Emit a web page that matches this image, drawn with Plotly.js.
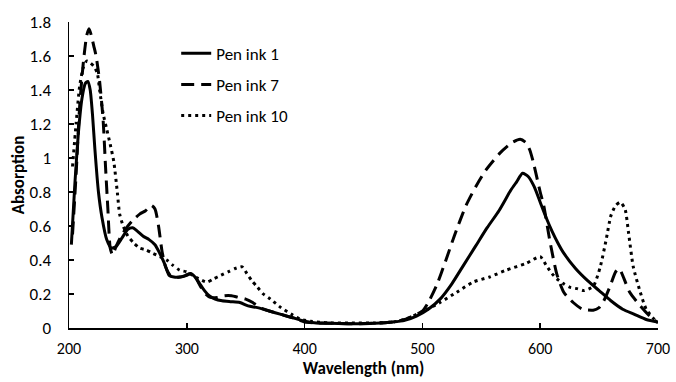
<!DOCTYPE html>
<html>
<head>
<meta charset="utf-8">
<script src="https://cdn.plot.ly/plotly-3.0.1.min.js"></script>
<style>html,body{margin:0;padding:0;background:#fff;}#chart{width:676px;height:382px;}</style>
</head>
<body>
<div id="chart"></div>
<script>
// Pen ink 1 (solid)
const wl1 = [202,205,208,211,214,216,218,220,222,225,228,232,236,240,245,250,254,258,263,268,273,277,281,285,289,294,299,303,307,311,315,319,324,330,337,345,352,360,370,380,390,400,410,420,440,460,475,485,495,505,515,525,535,545,555,565,575,580,585,590,595,600,605,610,615,620,630,640,650,660,670,680,690,700];
const ink1 = [0.49,0.85,1.15,1.35,1.44,1.45,1.40,1.25,1.05,0.80,0.65,0.52,0.47,0.48,0.53,0.58,0.59,0.57,0.54,0.52,0.49,0.44,0.38,0.31,0.30,0.30,0.31,0.32,0.30,0.26,0.22,0.19,0.17,0.16,0.155,0.15,0.13,0.12,0.10,0.08,0.06,0.04,0.03,0.028,0.025,0.028,0.035,0.045,0.07,0.11,0.17,0.26,0.37,0.48,0.59,0.69,0.81,0.86,0.91,0.89,0.83,0.74,0.65,0.57,0.50,0.44,0.35,0.28,0.22,0.16,0.11,0.08,0.05,0.035];

// Pen ink 7 (dashed)
const wl7 = [203,206,209,212,215,217,219,221,223,226,229,231,233,235,237,240,245,250,255,260,265,270,273,276,279,282,286,290,295,300,304,308,312,316,320,326,332,338,344,350,356,362,370,380,390,400,410,420,440,460,475,485,495,500,505,512,520,527,537,546,554,566,576,583,588,591,594,597,600,603,608,614,620,628,636,645,650,654,659,664,667,670,676,685,693,699];
const ink7 = [0.55,0.90,1.30,1.55,1.72,1.76,1.72,1.66,1.60,1.45,1.22,0.95,0.70,0.47,0.43,0.48,0.55,0.60,0.64,0.67,0.69,0.72,0.70,0.60,0.45,0.36,0.31,0.30,0.30,0.31,0.32,0.29,0.24,0.20,0.18,0.18,0.19,0.19,0.18,0.17,0.15,0.12,0.10,0.08,0.06,0.035,0.03,0.028,0.025,0.028,0.035,0.05,0.08,0.10,0.15,0.25,0.40,0.54,0.72,0.84,0.93,1.03,1.09,1.11,1.09,1.05,0.98,0.89,0.80,0.72,0.52,0.32,0.21,0.15,0.11,0.105,0.12,0.16,0.24,0.33,0.35,0.31,0.21,0.13,0.07,0.035];

// Pen ink 10 (dotted)
const wl10 = [203,206,209,212,215,218,221,224,226,229,232,235,238,241,243,246,250,255,260,265,271,277,283,288,294,300,305,310,317,323,329,335,341,347,351,355,360,365,371,380,389,397,405,420,440,460,475,485,492,498,507,515,529,543,557,571,588,600,605,610,614,620,625,632,637,645,651,656,660,664,668,672,675,679,685,690,697,700];
const ink10 = [0.95,1.20,1.42,1.53,1.57,1.56,1.54,1.50,1.40,1.26,1.17,1.08,0.98,0.80,0.67,0.60,0.54,0.50,0.47,0.46,0.44,0.42,0.40,0.37,0.34,0.33,0.31,0.29,0.27,0.29,0.31,0.33,0.35,0.36,0.32,0.28,0.24,0.20,0.17,0.12,0.08,0.05,0.04,0.03,0.03,0.03,0.035,0.05,0.07,0.09,0.12,0.15,0.21,0.27,0.30,0.34,0.38,0.42,0.37,0.32,0.29,0.26,0.24,0.23,0.22,0.245,0.36,0.52,0.66,0.72,0.74,0.70,0.56,0.36,0.21,0.11,0.05,0.03];

const seriesNames = ['Pen ink 1','Pen ink 7','Pen ink 10'];
const xTicks = [200,300,400,500,600,700];
const yTicks = [0,0.2,0.4,0.6,0.8,1,1.2,1.4,1.6,1.8];

const FONT = 'Carlito, Calibri, Lato, sans-serif';

const traces = [
  {x: wl1, y: ink1, name: seriesNames[0], legendgroup:'a', mode:'lines', line:{color:'#000', width:3, dash:'solid', shape:'spline', smoothing:0.6}},
  {x: wl7, y: ink7, name: seriesNames[1], legendgroup:'b', mode:'lines', line:{color:'#000', width:3, dash:'13px,7px', shape:'spline', smoothing:0.6}},
  {x: wl10, y: ink10, name: seriesNames[2], legendgroup:'c', mode:'lines', line:{color:'#000', width:3, dash:'3px,4px', shape:'spline', smoothing:0.6}}
];

const layout = {
  width: 676, height: 382,
  margin: {l:69, r:18, t:22, b:54},
  paper_bgcolor:'#fff', plot_bgcolor:'#fff',
  font: {family: FONT, size: 16, color:'#000'},
  showlegend: true,
  legend: {x:0.182, y:0.955, xanchor:'left', yanchor:'top', bgcolor:'rgba(0,0,0,0)', font:{family:FONT, size:17, color:'#000'}, tracegroupgap: 6},
  xaxis: {
    range:[200,700], tickvals: xTicks, ticktext: xTicks.map(String),
    showline:true, linecolor:'#000', linewidth:1.5, mirror:false,
    ticks:'inside', ticklen:5, tickwidth:1.5, tickcolor:'#000',
    showgrid:false, zeroline:false, ticklabelstandoff: 5,
    tickfont:{family:FONT, size:16, color:'#000'},
    title:{text:'<b>Wavelength (nm)</b>', font:{family:FONT, size:17, color:'#000'}, standoff: 4}
  },
  yaxis: {
    range:[0,1.8], tickvals: yTicks, ticktext: yTicks.map(String),
    showline:true, linecolor:'#000', linewidth:1.5,
    ticks:'inside', ticklen:5, tickwidth:1.5, tickcolor:'#000',
    showgrid:false, zeroline:false, ticklabelstandoff: 13,
    tickfont:{family:FONT, size:17, color:'#000'},
    title:{text:'<b>Absorption</b>', font:{family:FONT, size:17, color:'#000'}, standoff: 0}
  }
};

Plotly.newPlot('chart', traces, layout, {staticPlot:true, displayModeBar:false});
</script>
</body>
</html>
